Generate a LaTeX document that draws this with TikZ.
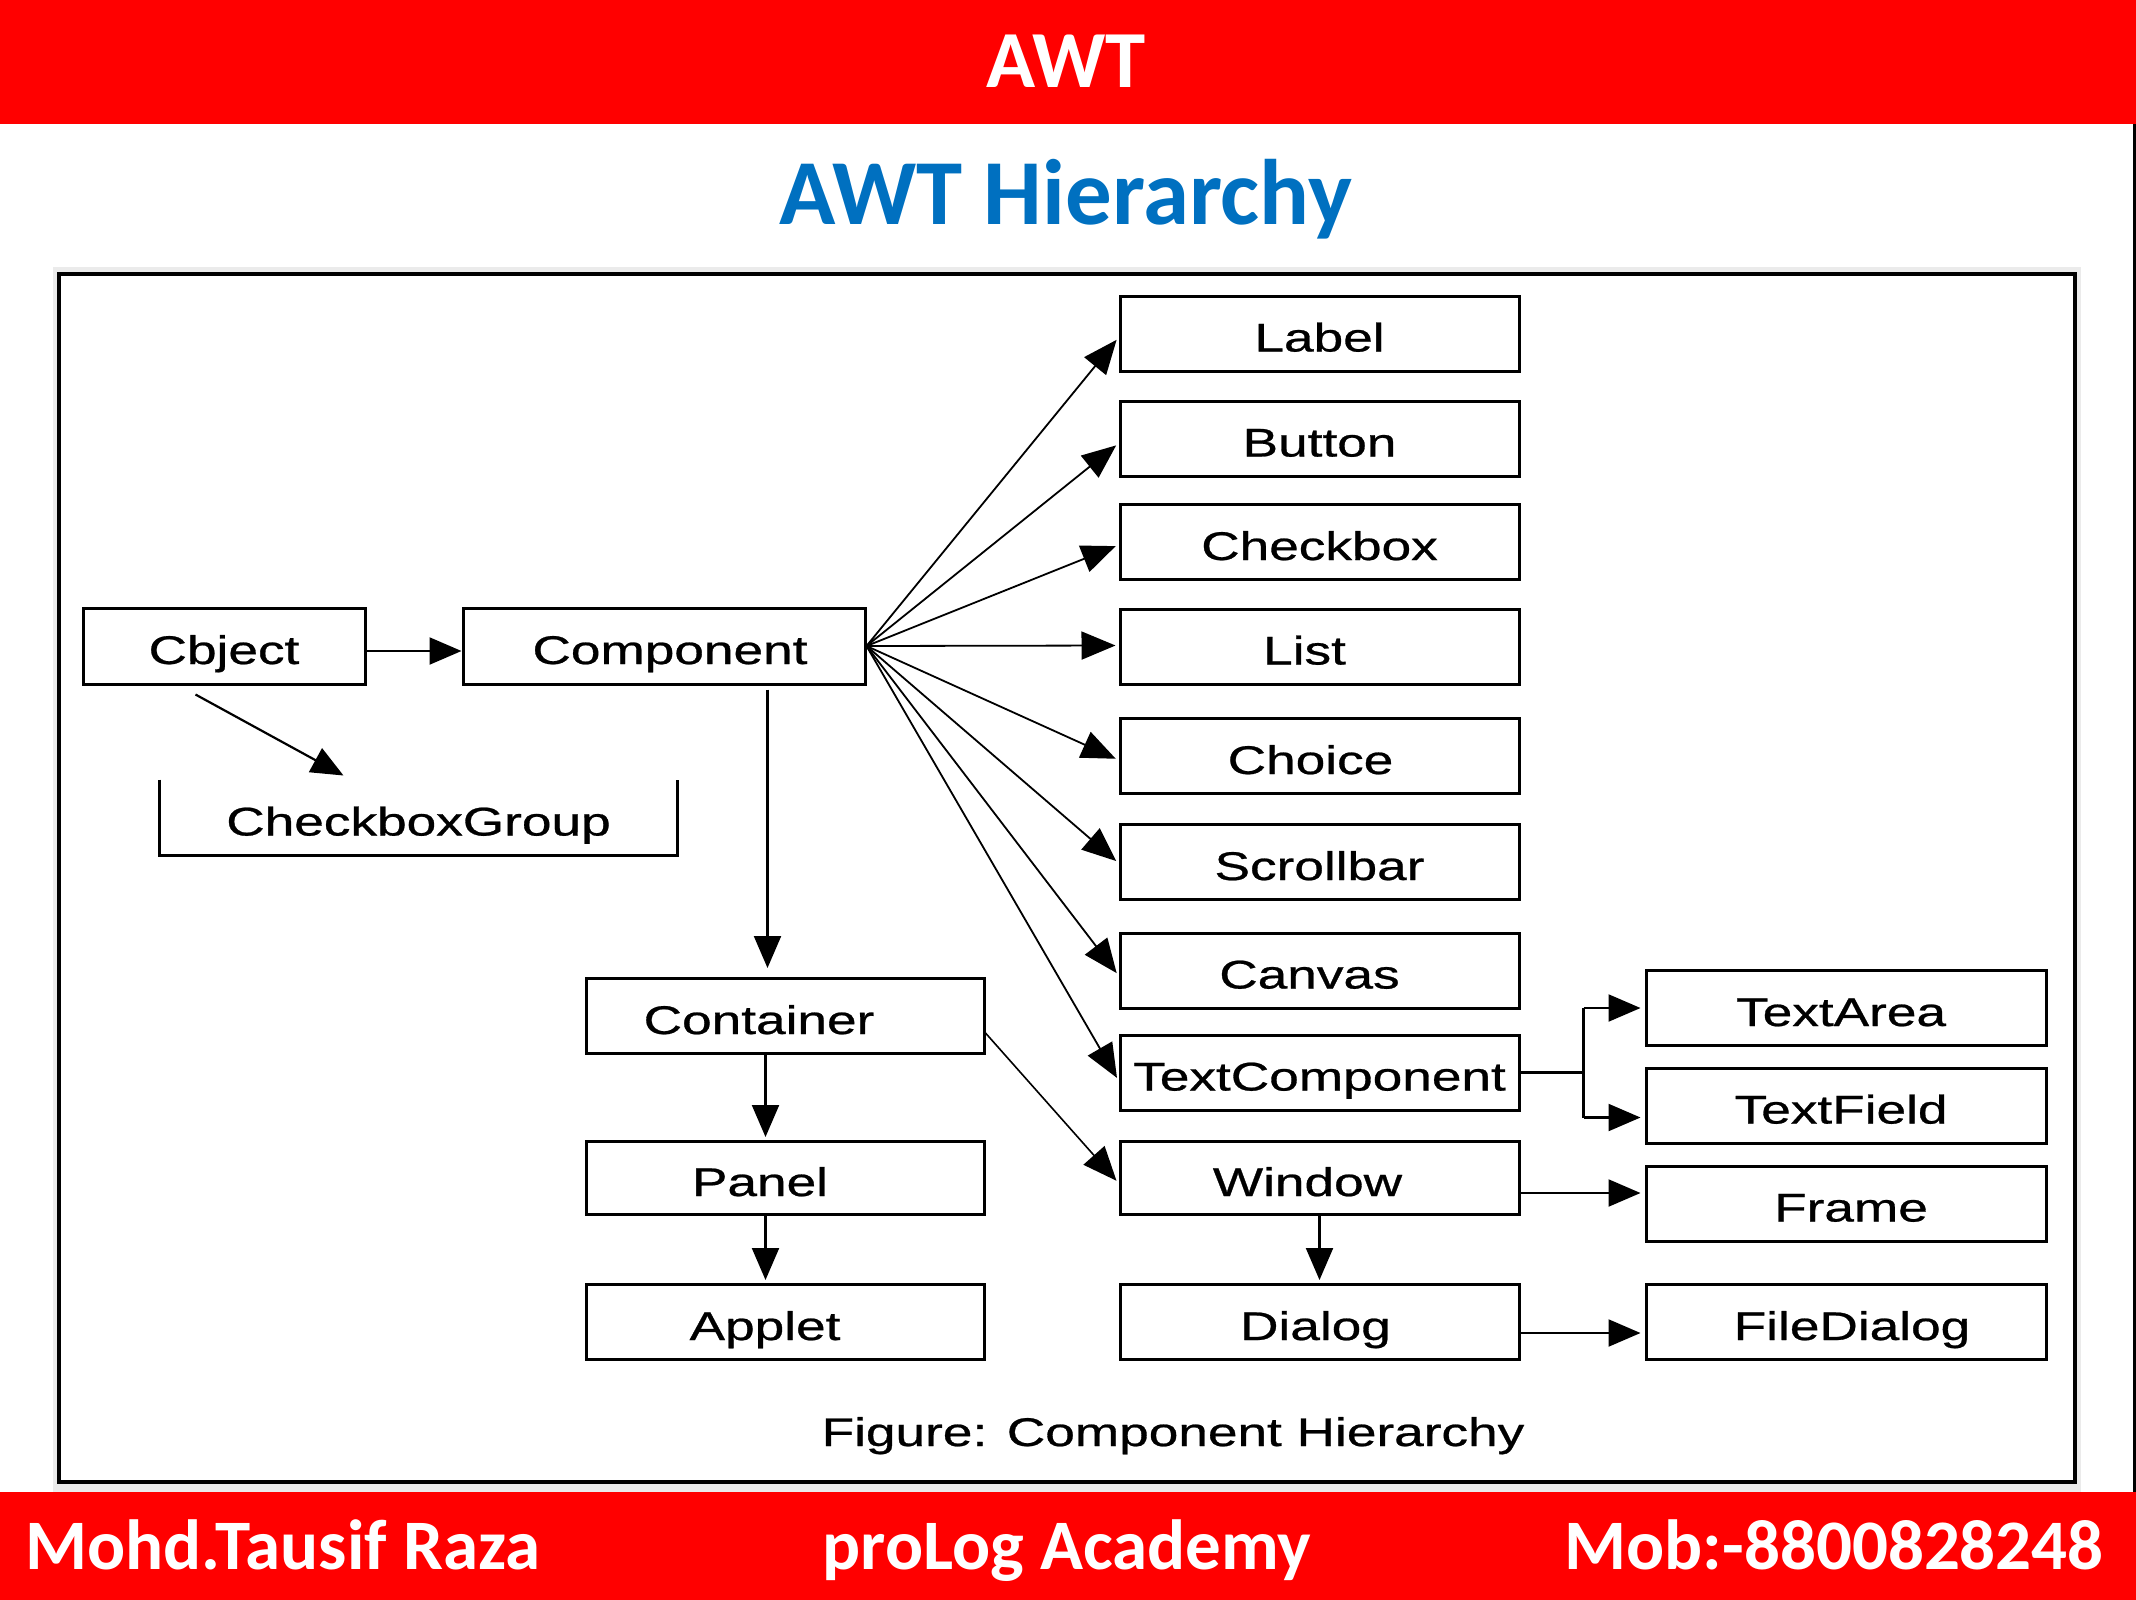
\documentclass[tikz,border=0pt]{standalone}
\usepackage{graphicx}
\usepackage{fontspec}
\setmainfont[FakeBold=0.6]{Liberation Sans}
\newfontfamily\calfont{Carlito}
\usetikzlibrary{arrows.meta,calc}
\definecolor{titleblue}{HTML}{0070C0}
\definecolor{bandred}{HTML}{FF0000}
\definecolor{bggray}{HTML}{EBEBEB}
\newcommand{\diagfont}{\fontsize{40pt}{48pt}\selectfont}
\newcommand{\stretchtxt}[1]{\scalebox{1.33}[1]{#1}}
\begin{document}
\begin{tikzpicture}[x=1pt,y=-1pt,
  box/.style={draw=black,line width=3pt,minimum width=399pt,minimum height=75pt,inner sep=0pt,text height=36pt,text depth=0pt,font=\diagfont},
  arr/.style={line width=2.2pt,-{Triangle[length=32pt,width=27pt]}},
  fan/.style={line width=1.8pt,shorten >=3pt,-{Triangle[length=34pt,width=28pt]}},
  band/.style={font=\calfont\bfseries\fontsize{71pt}{80pt}\selectfont,text=white,inner sep=0pt},
]
\useasboundingbox (0,0) rectangle (2136,1600);
% header
\fill[bandred] (0,0) rectangle (2136,124);
\node[font=\calfont\bfseries\fontsize{81pt}{90pt}\selectfont,text=white,anchor=base,inner sep=0pt] (hdr) at (1066,88) {AWT};
\node[font=\calfont\bfseries\fontsize{93pt}{100pt}\selectfont,text=titleblue,anchor=base,inner sep=0pt] (title) at (1066,224) {AWT Hierarchy};
% frame
\fill[bggray] (53,267) rectangle (2081,1492);
\draw[line width=4pt,fill=white] (59,274) rectangle (2075,1482);
\fill[black] (2133,124) rectangle (2136,1492);
% footer
\fill[bandred] (0,1492) rectangle (2136,1600);
\node[band,anchor=base west] (fl) at (25,1569) {Mohd.Tausif Raza};
\node[band,anchor=base] (fc) at (1067,1569) {proLog Academy};
\node[band,anchor=base east] (fr) at (2104,1569) {Mob:-8800828248};

% right column
\node[box] (label) at (1319.5,333.5) {\stretchtxt{Label}};
\node[box] (button) at (1319.5,438.5) {\stretchtxt{Button}};
\node[box] (checkbox) at (1319.5,542) {\stretchtxt{Checkbox}};
\node[box] (list) at (1319.5,646.5) {\hspace*{-30pt}\stretchtxt{List}};
\node[box] (choice) at (1319.5,756) {\hspace*{-18pt}\stretchtxt{Choice}};
\node[box] (scrollbar) at (1319.5,862) {\stretchtxt{Scrollbar}};
\node[box] (canvas) at (1319.5,970.5) {\hspace*{-20pt}\stretchtxt{Canvas}};
\node[box] (textcomp) at (1319.5,1072.5) {\stretchtxt{TextComponent}};
\node[box,minimum height=73pt] (window) at (1319.5,1178) {\hspace*{-24pt}\stretchtxt{Window}};
\node[box] (dialog) at (1319.5,1322) {\hspace*{-8pt}\stretchtxt{Dialog}};
% far right column
\node[box,minimum width=400pt] (textarea) at (1846,1008) {\hspace*{-10pt}\stretchtxt{TextArea}};
\node[box,minimum width=400pt] (textfield) at (1846,1105.5) {\hspace*{-10pt}\stretchtxt{TextField}};
\node[box,minimum width=400pt] (frame) at (1846,1203.5) {\hspace*{10pt}\stretchtxt{Frame}};
\node[box,minimum width=400pt] (filedialog) at (1846,1322) {\hspace*{12pt}\stretchtxt{FileDialog}};
% left part
\node[box,minimum width=282pt,minimum height=76pt] (object) at (224,646) {\stretchtxt{Cbject}};
\node[box,minimum width=402pt,minimum height=76pt] (component) at (664,646) {\hspace*{12pt}\stretchtxt{Component}};
\node[box,draw=none,minimum width=515pt,minimum height=73pt] (cbgroup) at (418.5,817.5) {\stretchtxt{CheckboxGroup}};
\draw[line width=2.6pt] (cbgroup.north west) -- (cbgroup.south west) -- (cbgroup.south east) -- (cbgroup.north east);
\node[box,minimum width=398pt] (container) at (785,1016) {\hspace*{-52pt}\stretchtxt{Container}};
\node[box,minimum width=398pt,minimum height=73pt] (panel) at (785,1178) {\hspace*{-50pt}\stretchtxt{Panel}};
\node[box,minimum width=398pt] (applet) at (785,1322) {\hspace*{-40pt}\stretchtxt{Applet}};
% caption
\node[anchor=base,font=\diagfont,inner sep=0pt] (caption) at (1173,1446) {\stretchtxt{Figure: Component Hierarchy}};

% connectors
\draw[arr] ([yshift=-5pt]object.east) -- ([yshift=-5pt]component.west);
\draw[arr] ($(object.south west)+(114,9)$) -- ($(cbgroup.north west)+(184,-4)$);
\draw[arr] ($(component.south west)+(306,4)$) -- ($(container.north west)+(183,-9)$);
\draw[arr] ($(container.south west)+(181,0)$) -- ($(panel.north west)+(181,-3)$);
\draw[arr] ($(panel.south west)+(181,0)$) -- ($(applet.north west)+(181,-3)$);
\draw[arr] ($(window.south west)+(201,0)$) -- ($(dialog.north west)+(201,-3)$);
\draw[arr] ([yshift=-15pt]window.east) -- ([yshift=-15pt,xshift=-4pt]window.east -| frame.west);
\draw[arr] ([yshift=-11pt]dialog.east) -- ([yshift=-11pt,xshift=-4pt]filedialog.west);
\coordinate (tcj) at ($(textcomp.east)+(63,0)$);
\draw[line width=2.2pt] (textcomp.east) -- (tcj);
\draw[line width=2.2pt] (tcj |- textarea.west) -- (tcj |- {$(textfield.west)+(0,12)$});
\draw[arr] (tcj |- textarea.west) -- ([xshift=-4pt]textarea.west);
\draw[arr] (tcj |- {$(textfield.west)+(0,12)$}) -- ([yshift=-12pt,xshift=-4pt]textfield.west);
\draw[line width=1.6pt,shorten >=3pt,-{Triangle[length=34pt,width=28pt]}] ($(container.east)+(0,17)$) -- ([yshift=-5pt]window.west);
% fan from Component
\draw[fan] (component.east) -- ([yshift=-4pt]label.west);
\draw[fan] (component.east) -- ([yshift=-5pt]button.west);
\draw[fan] (component.east) -- ([yshift=-3pt]checkbox.west);
\draw[fan] (component.east) -- ([yshift=1pt]list.west);
\draw[fan] (component.east) -- ([yshift=-4pt]choice.west);
\draw[fan] (component.east) -- ([yshift=-1pt]scrollbar.west);
\draw[fan] (component.east) -- ([yshift=-5pt]canvas.west);
\draw[fan] (component.east) -- ([yshift=-8pt]textcomp.west);
\end{tikzpicture}
\end{document}
